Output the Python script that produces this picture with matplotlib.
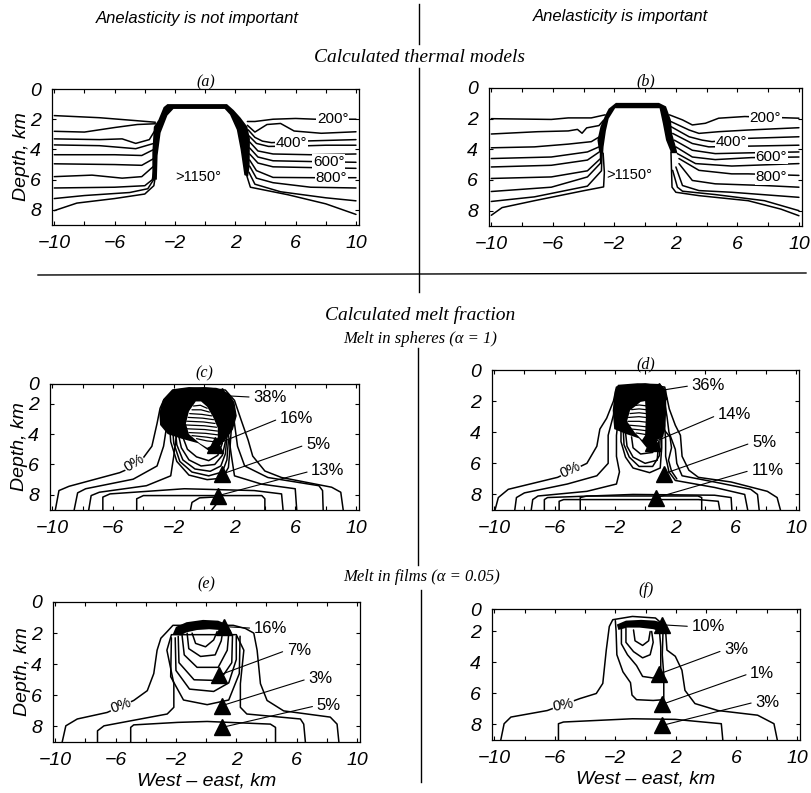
import matplotlib.pyplot as plt
from matplotlib.lines import Line2D

W, H = 812, 793

# ---------------- axis ticks shared by every panel ----------------
x_ticks = [-10, -8, -6, -4, -2, 0, 2, 4, 6, 8, 10]
x_labels = ["−10", "", "−6", "", "−2", "", "2", "", "6", "", "10"]
depth_labels = ["0", "2", "4", "6", "8"]

# ---------------- (a) thermal model, anelasticity not important ----------------
a_band = [(-3.5, 6.0), (-3.5, 4.2), (-3.4, 2.5), (-3.1, 2.05), (-2.75, 1.2), (-2.5, 1.0),
          (1.45, 1.0), (1.9, 1.4), (2.35, 1.9), (2.8, 2.5), (2.97, 3.3), (2.95, 5.1),
          (2.85, 5.8), (2.6, 5.7), (2.35, 4.0), (2.1, 2.7), (1.65, 1.7), (1.3, 1.32),
          (-2.1, 1.32), (-2.5, 1.75), (-2.95, 2.9), (-3.15, 4.4), (-3.2, 6.0)]
a_left = [
    [(-10, 1.76), (-7, 1.9), (-4.5, 2.1), (-3.3, 2.2)],
    [(-10, 2.8), (-8, 2.85), (-6, 2.55), (-4.5, 2.35), (-3.3, 2.3)],
    [(-10, 3.3), (-7, 3.35), (-5.5, 3.3), (-4.6, 3.6), (-3.7, 3.35), (-3.3, 2.7)],
    [(-10, 3.7), (-7, 3.75), (-4.6, 3.95), (-3.4, 3.6)],
    [(-10, 4.35), (-6, 4.35), (-4.2, 4.4), (-3.4, 4.0)],
    [(-10, 4.95), (-6, 5.0), (-4.2, 5.05), (-3.4, 4.6)],
    [(-10, 5.8), (-7.5, 5.7), (-5.5, 5.9), (-4.2, 5.8), (-3.4, 5.1)],
    [(-10, 6.55), (-6, 6.5), (-4, 6.4), (-3.5, 6.0), (-3.4, 5.4)],
    [(-10, 7.25), (-8, 7.05), (-5, 6.85), (-3.8, 6.6), (-3.35, 5.9), (-3.3, 5.4)],
    [(-10, 8.05), (-8.5, 7.55), (-6, 7.25), (-4, 6.95), (-3.4, 6.4), (-3.25, 5.5)],
]
a_right = [
    [(2.8, 2.15), (3.3, 2.15), (4.5, 2.0), (6, 1.95), (7.3, 2.0), (10, 2.0)],
    [(2.8, 2.4), (3.3, 2.85), (4.1, 2.35), (5.0, 2.28), (5.9, 2.78), (7.7, 2.93), (10, 2.83)],
    [(2.85, 2.7), (3.3, 3.2), (3.8, 3.45), (4.4, 3.55), (6.3, 3.45), (10, 3.35)],
    [(2.9, 3.1), (3.4, 3.6), (4.2, 3.8), (6, 3.78), (8, 3.72), (10, 3.72)],
    [(2.95, 3.5), (3.5, 4.1), (4.5, 4.3), (7, 4.35), (10, 4.3)],
    [(2.95, 3.9), (3.5, 4.5), (4.5, 4.75), (7, 4.8), (10, 4.85)],
    [(2.95, 4.3), (3.5, 4.9), (4.5, 5.15), (7, 5.2), (10, 5.25)],
    [(2.95, 4.7), (3.4, 5.4), (4.5, 5.85), (7.2, 5.87), (10, 5.87)],
    [(2.95, 5.1), (3.4, 5.9), (4.5, 6.2), (7, 6.5), (10, 6.55)],
    [(2.9, 5.5), (3.3, 6.3), (5, 6.8), (8, 7.2), (10, 7.4)],
    [(2.75, 5.7), (3.0, 6.5), (5.5, 7.0), (8, 7.6), (10, 8.3)],
]
a_labels = [("200°", 8.45, 2.0), ("400°", 5.7, 3.55), ("600°", 8.2, 4.8),
            ("800°", 8.35, 5.87)]
a_hot = (">1150°", -0.45, 5.85)

# ---------------- (b) thermal model, anelasticity important ----------------
b_band = [(-3.0, 4.1), (-3.1, 3.4), (-2.9, 2.5), (-2.58, 1.75), (-2.37, 1.35), (-1.9, 0.97),
          (0.9, 0.97), (1.36, 1.2), (1.68, 2.1), (1.75, 2.96), (2.0, 3.84), (2.1, 4.25),
          (1.7, 4.25), (1.36, 3.4), (1.15, 2.3), (0.94, 1.32), (-1.95, 1.32), (-2.37, 2.0),
          (-2.55, 2.8), (-2.7, 3.84), (-2.73, 4.3)]
b_left = [
    [(-10, 2.0), (-6.1, 2.05), (-5, 1.95), (-3.5, 1.95), (-2.6, 1.75)],
    [(-10, 3.0), (-7, 2.85), (-5, 2.8), (-4.4, 2.7), (-4.1, 2.95), (-3.8, 2.6), (-3.0, 2.45), (-2.7, 2.1)],
    [(-10, 3.9), (-7.2, 3.84), (-5, 3.66), (-3.5, 3.5), (-3.0, 3.2)],
    [(-10, 4.6), (-6.1, 4.5), (-3.75, 4.17), (-3.0, 3.84)],
    [(-10, 5.15), (-6.1, 5.04), (-3.75, 4.7), (-2.95, 4.15)],
    [(-10, 5.9), (-6.1, 5.8), (-3.75, 5.4), (-2.9, 4.6), (-2.9, 4.1)],
    [(-10, 6.75), (-6.1, 6.47), (-3.75, 5.8), (-2.9, 4.9), (-2.85, 4.15)],
    [(-10, 7.4), (-7.2, 7.1), (-3.75, 6.4), (-2.84, 5.4), (-2.8, 4.2)],
    [(-10, 8.3), (-9.3, 7.8), (-7.2, 7.35), (-4, 6.7), (-2.7, 6.45), (-2.65, 5.5), (-2.73, 4.25)],
]
b_right = [
    [(1.58, 1.75), (2.43, 2.08), (3.07, 2.41), (3.92, 2.3), (4.78, 1.97), (6.48, 1.86), (10, 1.97)],
    [(1.68, 2.19), (2.86, 2.74), (3.5, 2.96), (4.78, 2.85), (6.7, 2.74), (10, 2.59)],
    [(1.68, 2.52), (2.86, 3.18), (3.71, 3.4), (4.35, 3.5), (6.48, 3.29), (10, 3.18)],
    [(1.79, 2.96), (3.07, 3.62), (4.14, 3.84), (10, 3.73)],
    [(1.9, 3.4), (3.07, 4.06), (4.56, 4.28), (6.7, 4.23), (10, 4.17)],
    [(2.0, 3.84), (3.07, 4.5), (4.56, 4.67), (6.9, 4.54), (10, 4.5)],
    [(2.1, 4.28), (3.28, 4.93), (5.63, 5.09), (10, 4.93)],
    [(2.2, 4.6), (3.5, 5.37), (5.63, 5.6), (6.7, 5.6), (10, 5.7)],
    [(2.2, 4.93), (3.07, 6.03), (4.56, 6.25), (7.76, 6.36), (10, 6.47)],
    [(2.0, 5.15), (2.43, 6.36), (3.5, 6.69), (5.63, 6.8), (10, 7.13)],
    [(1.79, 5.37), (2.1, 6.47), (2.43, 6.73), (4.56, 6.95), (7.76, 7.35), (10, 8.0)],
    [(1.68, 4.17), (1.75, 6.47), (2.0, 6.8), (3.5, 7.02), (6.7, 7.35), (8.83, 7.9), (10, 8.33)],
]
b_labels = [("200°", 7.8, 1.97), ("400°", 5.63, 3.5), ("600°", 8.2, 4.47),
            ("800°", 8.2, 5.8)]
b_hot = (">1150°", -1.0, 5.7)

# ---------------- (c) melt in spheres, anelasticity not important ----------------
c_bells = [
    [(-9.8, 9.0), (-9.56, 7.72), (-8.9, 7.44), (-5.56, 6.54), (-4.33, 6.0), (-3.44, 4.8),
     (-3.1, 3.3), (-2.9, 2.3), (-2.67, 1.78), (-2.0, 1.1), (0, 0.95), (1.4, 1.1), (2.0, 1.78),
     (2.44, 3.08), (2.9, 4.4), (3.2, 5.45), (4.0, 6.43), (5.1, 6.86), (8.4, 7.5), (9.0, 7.83),
     (9.16, 9.0)],
    [(-8.56, 9.0), (-8.33, 7.87), (-7.8, 7.6), (-4.67, 6.97), (-3.1, 6.1), (-2.67, 4.8),
     (-2.44, 3.3), (-2.3, 2.5), (-1.5, 1.3), (1.2, 1.3), (1.9, 2.5), (2.0, 3.3), (2.2, 4.8),
     (2.67, 6.1), (4.2, 6.86), (7.56, 7.4), (7.8, 7.72), (7.84, 9.0)],
    [(-7.6, 9.0), (-7.44, 8.05), (-6.9, 7.83), (-3.8, 7.4), (-2.2, 6.75), (-2.0, 5.45),
     (-1.78, 3.73), (-1.5, 3.0), (1.4, 3.0), (1.56, 3.73), (1.8, 5.45), (2.0, 6.75),
     (3.8, 7.3), (6.0, 7.6), (6.1, 9.0)],
]
c_boxes = [
    [(-6.67, 9.0), (-6.67, 8.15), (-6.2, 7.94), (-1.3, 7.6), (3.3, 7.72), (5.1, 7.94), (5.2, 9.0)],
    [(-4.44, 9.0), (-4.44, 8.26), (-4.0, 8.05), (3.8, 8.05), (4.0, 8.26), (4.0, 9.0)],
    [(-0.9, 9.0), (-0.8, 8.5), (-0.3, 8.2), (0.6, 8.15), (0.9, 8.5), (0.5, 9.0)],
]
c_loops = [
    [(-2.3, 3.0), (-2.2, 4.5), (-1.8, 5.8), (-1.0, 6.7), (0.2, 7.0), (1.2, 6.9), (1.6, 6.2), (1.7, 5.0), (1.8, 3.5)],
    [(-2.1, 3.3), (-2.0, 4.6), (-1.6, 5.8), (-0.8, 6.5), (0.3, 6.75), (1.2, 6.5), (1.5, 5.7), (1.6, 4.4)],
    [(-1.9, 3.6), (-1.8, 4.7), (-1.4, 5.7), (-0.6, 6.3), (0.4, 6.45), (1.1, 6.1), (1.4, 5.3), (1.5, 4.2)],
    [(-1.7, 4.0), (-1.5, 4.9), (-1.0, 5.7), (-0.2, 6.1), (0.7, 6.0), (1.2, 5.4), (1.4, 4.5)],
    [(-1.4, 4.2), (-1.1, 5.0), (-0.5, 5.5), (0.3, 5.75), (0.9, 5.4), (1.2, 4.6)],
]
c_black = [(-2.95, 2.6), (-2.7, 1.7), (-2.1, 1.05), (-1.0, 0.9), (0.8, 0.95), (1.6, 1.3),
           (2.0, 1.9), (2.15, 2.8), (1.9, 3.7), (1.4, 4.4), (0.9, 4.9), (0.3, 5.1),
           (-0.4, 4.6), (-1.5, 4.3), (-2.4, 4.0), (-2.9, 3.4)]
c_hole = [(-0.55, 1.85), (-0.2, 1.85), (0.2, 2.2), (0.6, 2.9), (0.9, 3.6), (0.9, 4.2),
          (0.6, 4.7), (0.2, 4.9), (-0.3, 4.6), (-1.0, 4.0), (-1.2, 3.3), (-1.0, 2.5)]
c_chevrons = [
    [(-0.7, 2.15), (-0.25, 2.1), (0.2, 2.3)],
    [(-0.8, 2.4), (-0.2, 2.4), (0.35, 2.55)],
    [(-0.95, 2.65), (-0.15, 2.7), (0.5, 2.8)],
    [(-1.05, 2.9), (-0.1, 2.95), (0.62, 3.05)],
    [(-1.15, 3.15), (-0.05, 3.2), (0.72, 3.3)],
    [(-1.2, 3.4), (0.0, 3.45), (0.82, 3.55)],
    [(-1.15, 3.65), (0.05, 3.7), (0.88, 3.8)],
    [(-1.0, 3.9), (0.1, 3.95), (0.9, 4.05)],
    [(-0.8, 4.1), (0.15, 4.2), (0.8, 4.3)],
    [(-0.5, 4.3), (0.2, 4.45), (0.65, 4.5)],
]
c_marks = [("38%", 4.33, 1.57, 1.16, 1.46), ("16%", 6.08, 2.97, 0.72, 4.7),
           ("5%", 7.5, 4.7, 1.16, 6.64), ("13%", 8.15, 6.43, 0.94, 8.05)]
c_zero = ("0%", -4.63, 5.9, 32)

# ---------------- (d) melt in spheres, anelasticity important ----------------
d_bells = [
    [(-9.95, 9.0), (-9.73, 8.2), (-9.07, 7.67), (-5.8, 6.9), (-3.86, 6.0), (-3.2, 4.9),
     (-3.0, 3.8), (-2.55, 3.1), (-2.1, 2.0), (-1.9, 1.1), (0, 0.9), (1.3, 1.1), (1.6, 2.5),
     (2.0, 3.55), (2.34, 4.2), (2.45, 5.55), (2.9, 6.44), (3.53, 6.9), (5.7, 7.2), (8.1, 7.8),
     (8.75, 8.2), (8.97, 9.0)],
    [(-8.64, 9.0), (-8.53, 8.2), (-8.0, 7.9), (-5.16, 7.33), (-3.2, 6.8), (-2.45, 6.0),
     (-2.45, 4.2), (-2.1, 2.9), (-1.9, 1.5), (1.2, 1.5), (1.45, 3.0), (1.58, 4.0), (2.0, 5.1),
     (2.1, 6.0), (2.45, 6.8), (4.6, 7.2), (7.0, 7.67), (7.45, 8.0), (7.56, 9.0)],
    [(-7.55, 9.0), (-7.45, 8.33), (-7.1, 8.1), (-3.86, 7.8), (-1.9, 7.33), (-1.7, 6.55),
     (-1.9, 5.55), (-1.9, 4.2), (-1.7, 2.5), (1.2, 2.5), (1.36, 4.5), (1.36, 5.55),
     (1.58, 6.55), (2.0, 7.1), (4.6, 7.55), (6.6, 8.0), (6.8, 9.0)],
]
d_boxes = [
    [(-6.68, 9.0), (-6.68, 8.33), (-6.47, 8.2), (-0.8, 8.0), (4.6, 8.05), (5.7, 8.2), (5.75, 9.0)],
    [(-5.7, 9.0), (-5.7, 8.44), (-5.4, 8.33), (3.53, 8.33), (4.85, 8.44), (4.95, 9.0)],
    [(-4.3, 9.0), (-4.3, 8.2), (-3.86, 8.1), (3.5, 8.1), (3.75, 8.2), (3.75, 9.0)],
]
d_loops = [
    [(-1.6, 3.5), (-1.6, 4.6), (-1.3, 5.6), (-0.8, 6.3), (0.3, 6.6), (1.0, 6.3), (1.1, 5.0), (1.1, 3.8)],
    [(-1.45, 3.8), (-1.4, 4.8), (-1.05, 5.6), (-0.4, 6.2), (0.5, 6.2), (0.95, 5.5), (1.0, 4.3)],
    [(-1.3, 4.0), (-1.2, 4.9), (-0.8, 5.6), (0.0, 6.0), (0.8, 5.8), (0.9, 4.6)],
    [(-0.9, 4.3), (-0.8, 5.0), (-0.3, 5.4), (0.5, 5.3), (0.7, 4.5)],
    [(1.3, 3.9), (1.65, 4.3), (1.75, 5.0), (1.55, 5.8), (1.75, 6.5), (2.1, 7.0)],
]
d_black = [(-2.15, 2.6), (-2.0, 1.3), (-1.8, 0.95), (-0.5, 0.85), (1.0, 0.9), (1.4, 1.3),
           (1.4, 2.5), (1.35, 3.6), (1.2, 4.3), (0.6, 4.6), (0.1, 5.0), (-0.4, 4.4),
           (-1.3, 4.1), (-2.05, 3.8)]
d_hole = [(-0.3, 2.05), (0.0, 2.0), (0.05, 3.0), (0.0, 4.2), (-0.2, 4.5), (-0.7, 4.0),
          (-1.2, 3.3), (-1.0, 2.6)]
d_chevrons = [
    [(-0.8, 2.3), (-0.4, 2.25), (0.05, 2.3)],
    [(-0.9, 2.55), (-0.4, 2.5), (0.05, 2.55)],
    [(-1.0, 2.8), (-0.4, 2.75), (0.05, 2.8)],
    [(-1.1, 3.05), (-0.4, 3.0), (0.05, 3.05)],
    [(-1.15, 3.3), (-0.4, 3.3), (0.05, 3.35)],
    [(-1.05, 3.55), (-0.4, 3.6), (0.05, 3.65)],
    [(-0.85, 3.8), (-0.35, 3.85), (0.05, 3.9)],
    [(-0.6, 4.05), (-0.25, 4.1), (0.05, 4.15)],
]
d_marks = [("36%", 4.18, 1.0, 0.92, 1.33), ("14%", 5.92, 2.89, 0.49, 4.67),
           ("5%", 7.88, 4.67, 1.25, 6.67), ("11%", 8.1, 6.44, 0.7, 8.22)]
d_zero = ("0%", -4.95, 6.44, 25)

# ---------------- (e) melt in films, anelasticity not important ----------------
e_bells = [
    [(-9.54, 9.0), (-9.3, 7.96), (-8.54, 7.52), (-6.56, 7.1), (-4.8, 6.33), (-3.9, 5.7),
     (-3.47, 4.6), (-3.25, 3.1), (-3.0, 2.33), (-2.58, 1.9), (-2.2, 1.5), (1.8, 1.5),
     (2.6, 1.7), (3.16, 2.0), (3.38, 3.1), (3.6, 5.25), (4.04, 6.33), (5.14, 7.0),
     (8.23, 7.4), (8.68, 7.85), (8.8, 9.0)],
    [(-7.2, 9.0), (-7.2, 8.28), (-6.77, 7.96), (-2.58, 7.2), (-2.14, 6.77), (-2.14, 5.25),
     (-2.6, 3.1), (-2.3, 2.1), (2.0, 2.1), (2.5, 3.1), (2.27, 5.25), (2.27, 6.77),
     (2.7, 7.2), (6.25, 7.52), (6.47, 7.85), (6.58, 9.0)],
    [(-5.0, 9.0), (-5.0, 8.06), (-4.8, 7.9), (-1.9, 7.74), (0.07, 7.68), (4.26, 7.85),
     (4.6, 8.06), (4.6, 9.0)],
]
e_loops = [
    [(-0.93, 2.0), (-0.7, 2.66), (-0.04, 2.88), (0.5, 2.44), (0.73, 1.9)],
    [(-1.26, 2.0), (-1.15, 3.0), (-0.37, 3.5), (0.6, 3.4), (1.0, 2.5), (1.1, 1.9)],
    [(-1.6, 2.1), (-1.45, 3.4), (-0.6, 4.2), (0.8, 4.2), (1.4, 3.1), (1.5, 2.0)],
    [(-1.85, 2.2), (-1.8, 3.9), (-0.8, 5.0), (0.9, 5.05), (1.7, 3.9), (1.75, 2.1)],
    [(-2.05, 2.3), (-2.0, 4.4), (-1.1, 5.6), (0.5, 5.75), (1.5, 5.2), (2.0, 3.7), (2.0, 2.2)],
    [(-2.3, 2.3), (-2.35, 4.8), (-1.5, 6.3), (0.07, 6.6), (1.5, 6.3), (2.2, 4.6), (2.25, 2.2)],
]
e_black = [(-2.2, 2.05), (-2.0, 1.6), (-1.3, 1.3), (-0.2, 1.15), (0.8, 1.2), (1.3, 1.4),
           (1.65, 1.85), (1.7, 2.05), (1.3, 2.0), (0.9, 1.8), (0.2, 1.75), (-0.6, 1.8),
           (-1.3, 1.95), (-1.7, 2.15)]
e_marks = [("16%", 4.26, 1.69, 1.17, 1.58), ("7%", 6.14, 3.1, 0.84, 4.71),
           ("3%", 7.57, 4.93, 1.06, 6.66), ("5%", 8.12, 6.66, 1.06, 8.06)]
e_zero = ("0%", -5.67, 6.66, 20)

# ---------------- (f) melt in films, anelasticity important ----------------
f_bells = [
    [(-9.57, 9.0), (-9.35, 7.95), (-8.9, 7.52), (-6.5, 7.1), (-4.35, 6.33), (-3.26, 6.0),
     (-2.83, 5.35), (-2.6, 3.2), (-2.4, 1.68), (-2.17, 1.24), (-0.87, 1.03), (0.65, 1.13),
     (1.3, 1.68), (1.41, 3.2), (1.96, 3.6), (2.4, 4.5), (2.6, 5.8), (3.26, 6.65), (4.78, 7.1),
     (7.4, 7.4), (8.48, 7.95), (8.7, 9.0)],
    [(-5.76, 9.0), (-5.76, 7.95), (-5.43, 7.84), (-0.87, 7.63), (1.96, 7.67), (5.0, 7.95),
     (5.1, 9.0)],
]
f_loops = [
    [(-2.0, 1.3), (-1.95, 2.0), (-1.9, 3.5), (-1.5, 4.6), (-1.0, 5.3), (-0.9, 6.1), (-0.6, 6.4),
     (0.5, 6.45), (1.2, 6.4), (1.2, 4.8), (1.1, 3.5), (1.15, 2.0), (1.2, 1.5)],
    [(-1.6, 1.6), (-1.6, 2.8), (-1.2, 3.5), (-0.6, 4.2), (-0.2, 4.9), (0.5, 5.0), (1.0, 4.6),
     (1.0, 3.0), (0.9, 1.8)],
    [(-1.3, 1.8), (-1.3, 2.7), (-0.8, 3.3), (-0.2, 3.7), (0.3, 3.5), (0.5, 2.7), (0.4, 2.0)],
    [(-0.8, 1.9), (-0.7, 2.6), (-0.2, 2.9), (0.2, 2.6), (0.3, 2.0)],
]
f_black = [(-1.9, 1.55), (-1.3, 1.3), (-0.3, 1.25), (0.6, 1.3), (1.2, 1.45), (1.3, 1.8),
           (1.1, 2.05), (0.5, 1.85), (-0.4, 1.75), (-1.2, 1.75), (-1.8, 1.9)]
f_marks = [("10%", 4.13, 1.68, 1.09, 1.57), ("3%", 5.98, 3.19, 0.87, 4.75),
           ("1%", 7.7, 4.7, 1.09, 6.7), ("3%", 8.04, 6.55, 1.09, 8.06)]
f_zero = ("0%", -5.43, 6.76, 10)

SANS = "Liberation Sans"
SERIF = "Liberation Serif"


def px_rect(left, right, top, bottom):
    return [left / W, 1 - bottom / H, (right - left) / W, (bottom - top) / H]


def draw(ax, segs, lw=1.1, z=2):
    for s in segs:
        ax.plot([p[0] for p in s], [p[1] for p in s], color="k", lw=lw, zorder=z,
                solid_joinstyle="round", solid_capstyle="round")


def patch(ax, pts, color, z):
    ax.fill([p[0] for p in pts], [p[1] for p in pts], color=color, lw=0, zorder=z)


def frame(ax, top, ylabel=True, xlabel=False):
    ax.set_xlim(-10.15, 10.2)
    ax.set_ylim(9.0, top)
    ax.set_xticks(x_ticks)
    ax.set_xticklabels(x_labels, fontfamily=SANS, fontstyle="italic", fontsize=14)
    ax.set_yticks([top, 2, 4, 6, 8])
    ax.set_yticklabels(depth_labels, fontfamily=SANS, fontstyle="italic", fontsize=14)
    ax.tick_params(direction="in", length=3, width=0.8, top=True, right=True)
    ax.tick_params(axis="x", pad=7)
    ax.tick_params(axis="y", pad=8)
    for sp in ax.spines.values():
        sp.set_linewidth(0.9)
    if ylabel:
        ax.set_ylabel("Depth, km", fontfamily=SANS, fontstyle="italic", fontsize=14, labelpad=0)
    if xlabel:
        ax.set_xlabel("West – east, km", fontfamily=SANS, fontstyle="italic", fontsize=14,
                      labelpad=3)


def thermal(ax, band, left, right, labels, hot):
    draw(ax, left)
    draw(ax, right)
    patch(ax, band, "k", 3)
    for s, x, y in labels:
        ax.text(x, y, s, fontsize=11, fontfamily=SANS, ha="center", va="center", zorder=5,
                bbox=dict(fc="white", ec="none", pad=0.5))
    ax.text(hot[1], hot[2], hot[0], fontsize=10.5, fontfamily=SANS, ha="center", va="center")


def melt(ax, bells, loops, black, hole, chevrons, marks, zero):
    draw(ax, bells)
    draw(ax, loops)
    patch(ax, black, "k", 3)
    if hole:
        patch(ax, hole, "white", 4)
        draw(ax, chevrons, lw=0.9, z=5)
    for s, lx, ly, tx, ty in marks:
        ax.annotate(s, xy=(tx, ty), xytext=(lx, ly), fontsize=12, fontfamily=SANS,
                    ha="center", va="center", zorder=7,
                    arrowprops=dict(arrowstyle="-", lw=0.8, color="k", relpos=(0, 0.5),
                                    shrinkA=1, shrinkB=0))
        ax.plot(tx, ty, marker="^", ms=11, color="k", zorder=8)
    ax.text(zero[1], zero[2], zero[0], rotation=zero[3], fontsize=10.5, fontfamily=SANS,
            ha="center", va="center", zorder=6, bbox=dict(fc="white", ec="none", pad=0.3))


fig = plt.figure(figsize=(W / 100, H / 100), dpi=100)

ax_a = fig.add_axes(px_rect(52, 359, 89, 225))
frame(ax_a, 0.0)
thermal(ax_a, a_band, a_left, a_right, a_labels, a_hot)
ax_a.set_title("(a)", fontfamily=SERIF, fontstyle="italic", fontsize=11.5, pad=2)

ax_b = fig.add_axes(px_rect(489, 802, 88, 226))
frame(ax_b, 0.0, ylabel=False)
thermal(ax_b, b_band, b_left, b_right, b_labels, b_hot)
ax_b.set_title("(b)", fontfamily=SERIF, fontstyle="italic", fontsize=11.5, pad=2)

ax_c = fig.add_axes(px_rect(50, 359, 384, 510))
frame(ax_c, 0.7)
melt(ax_c, c_bells + c_boxes, c_loops, c_black, c_hole, c_chevrons, c_marks, c_zero)
ax_c.set_title("(c)", fontfamily=SERIF, fontstyle="italic", fontsize=11.5, pad=5)

ax_d = fig.add_axes(px_rect(492, 799, 370, 510))
frame(ax_d, 0.0, ylabel=False)
melt(ax_d, d_bells + d_boxes, d_loops, d_black, d_hole, d_chevrons, d_marks, d_zero)
ax_d.set_title("(d)", fontfamily=SERIF, fontstyle="italic", fontsize=11.5, pad=1)

ax_e = fig.add_axes(px_rect(53, 360, 602, 742))
frame(ax_e, 0.0, xlabel=True)
melt(ax_e, e_bells, e_loops, e_black, None, [], e_marks, e_zero)
ax_e.set_title("(e)", fontfamily=SERIF, fontstyle="italic", fontsize=11.5, pad=10)

ax_f = fig.add_axes(px_rect(492, 800, 609, 740))
frame(ax_f, 0.55, ylabel=False, xlabel=True)
melt(ax_f, f_bells, f_loops, f_black, None, [], f_marks, f_zero)
ax_f.set_title("(f)", fontfamily=SERIF, fontstyle="italic", fontsize=11.5, pad=11)

# headings
fig.text(197 / W, 1 - 18 / H, "Anelasticity is not important", fontfamily=SANS,
         fontstyle="italic", fontsize=12, ha="center", va="center")
fig.text(620 / W, 1 - 17 / H, "Anelasticity is important", fontfamily=SANS,
         fontstyle="italic", fontsize=12, ha="center", va="center")
fig.text(420 / W, 1 - 57 / H, "Calculated thermal models", fontfamily=SERIF,
         fontstyle="italic", fontsize=14, ha="center", va="center")
fig.text(420 / W, 1 - 315 / H, "Calculated melt fraction", fontfamily=SERIF,
         fontstyle="italic", fontsize=14, ha="center", va="center")
fig.text(420 / W, 1 - 339 / H, "Melt in spheres (α = 1)", fontfamily=SERIF,
         fontstyle="italic", fontsize=12, ha="center", va="center")
fig.text(422 / W, 1 - 577 / H, "Melt in films (α = 0.05)", fontfamily=SERIF,
         fontstyle="italic", fontsize=12, ha="center", va="center")

# divider lines
for (x0, y0), (x1, y1) in [((419, 4), (419, 44)), ((419, 68), (419, 292)),
                           ((38, 275), (806, 273)), ((418, 348), (418, 565)),
                           ((421, 590), (421, 782))]:
    fig.add_artist(Line2D([x0 / W, x1 / W], [1 - y0 / H, 1 - y1 / H], color="k", lw=1.0,
                          transform=fig.transFigure))

fig.savefig("out.png", dpi=100)
